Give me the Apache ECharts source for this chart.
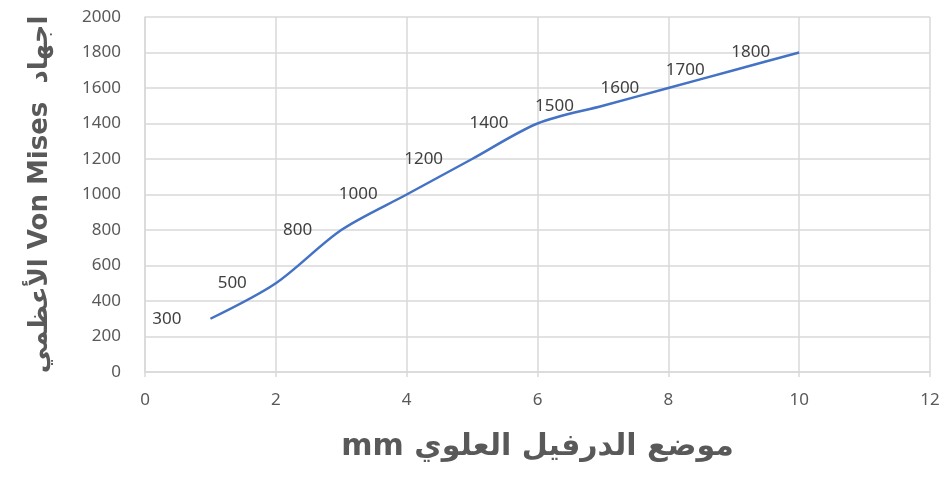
<!DOCTYPE html>
<html><head><meta charset="utf-8">
<script src="https://cdn.jsdelivr.net/npm/echarts@6/dist/echarts.min.js"></script>
<style>html,body{margin:0;padding:0;background:#fff}#c{width:944px;height:479px}</style>
</head><body><div id="c"></div>
<script>
const xValues = [1, 2, 3, 4, 5, 6, 7, 8, 9, 10];
const stress = [300, 500, 800, 1000, 1200, 1400, 1500, 1600, 1700, 1800];
const xTitle = 'mm موضع الدرفيل العلوي';
const yTitle = 'الأعظمي Von Mises  اجهاد';

const chart = echarts.init(document.getElementById('c'));
chart.setOption({
  animation: false,
  grid: { left: 145, right: 14, top: 17, bottom: 107 },
  xAxis: {
    type: 'value', min: 0, max: 12, interval: 2,
    name: xTitle, nameLocation: 'middle', nameGap: 60,
    nameTextStyle: { fontFamily: 'DejaVu Sans', fontWeight: 'bold', fontSize: 30, color: '#595959' },
    axisLine: { show: true, lineStyle: { color: '#d9d9d9', width: 1.5 } },
    axisTick: { show: true, length: 5, lineStyle: { color: '#d9d9d9', width: 1.5 } },
    axisLabel: { margin: 20, fontFamily: 'Noto Sans', fontSize: 17, color: '#595959' },
    splitLine: { show: true, lineStyle: { color: '#d9d9d9', width: 1.5 } }
  },
  yAxis: {
    type: 'value', min: 0, max: 2000, interval: 200,
    name: yTitle, nameLocation: 'middle', nameGap: 92, nameRotate: 90,
    nameTextStyle: { fontFamily: 'DejaVu Sans', fontWeight: 'bold', fontSize: 26, color: '#595959' },
    axisLine: { show: true, lineStyle: { color: '#d9d9d9', width: 1.5 } },
    axisTick: { show: false },
    axisLabel: { margin: 24, fontFamily: 'Noto Sans', fontSize: 17, color: '#595959', formatter: v => String(v) },
    splitLine: { show: true, lineStyle: { color: '#d9d9d9', width: 1.5 } }
  },
  series: [{
    type: 'line',
    data: xValues.map((x, i) => [x, stress[i]]),
    smooth: 0.3,
    showSymbol: true, showAllSymbol: true, symbol: 'circle', symbolSize: 2,
    lineStyle: { color: '#4472C4', width: 2.5 },
    itemStyle: { color: 'rgba(0,0,0,0)', borderWidth: 0 },
    label: { show: true, position: 'left', distance: 28, fontFamily: 'Noto Sans', fontSize: 17, color: '#404040',
      formatter: p => String(p.value[1]) }
  }]
});
</script></body></html>
